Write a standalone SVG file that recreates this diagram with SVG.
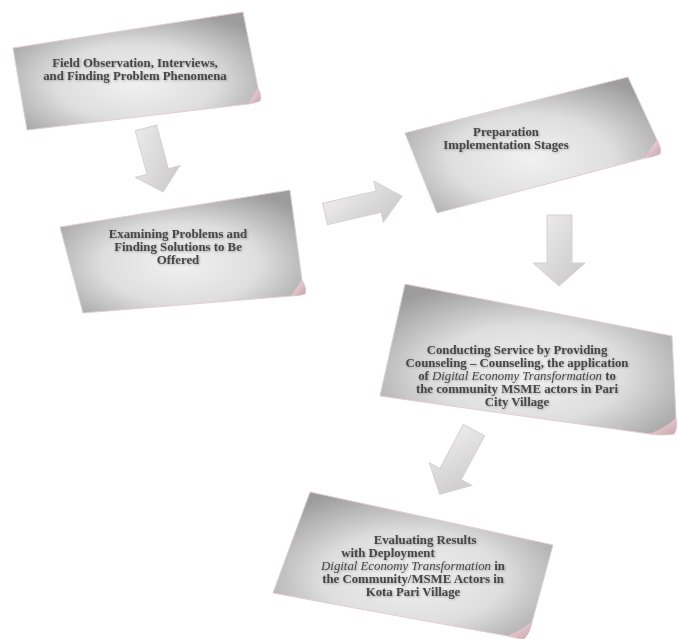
<svg xmlns="http://www.w3.org/2000/svg" width="678" height="639" viewBox="0 0 678 639">
<style>
.note{fill:url(#paper);stroke:#e2cdd1;stroke-width:1}
.fold{fill:url(#foldg);stroke:#dcbcc2;stroke-width:0.8}
.arrow{fill:url(#arrg);stroke:#d9cdd0;stroke-width:1}
.t{font-family:"Liberation Serif","Times New Roman",serif;font-size:12.8px;font-weight:bold;fill:#474747;text-anchor:middle;filter:url(#ts)}
.i{font-style:italic;font-weight:normal}
</style>
<defs>
<radialGradient id="paper" cx="50%" cy="60%" r="65%">
<stop offset="0" stop-color="#f1f1f1"/>
<stop offset="0.5" stop-color="#dedede"/>
<stop offset="1" stop-color="#9c9c9c"/>
</radialGradient>
<linearGradient id="foldg" x1="0" y1="0" x2="1" y2="1">
<stop offset="0" stop-color="#f2e6e8"/>
<stop offset="1" stop-color="#c9a2aa"/>
</linearGradient>
<linearGradient id="arrg" x1="0" y1="0" x2="1" y2="1">
<stop offset="0" stop-color="#f0f0f0"/>
<stop offset="1" stop-color="#c6c6c6"/>
</linearGradient>
<filter id="ts" x="-10%" y="-30%" width="120%" height="160%">
<feDropShadow dx="0.8" dy="0.8" stdDeviation="0.8" flood-color="#808080" flood-opacity="0.7"/>
</filter>
</defs>
<g id="connectors">
<polygon class="arrow" points="-11,0 11,0 11,45 23,45 0,66 -23,45 -11,45" transform="translate(146,128) rotate(-15)"/>
<polygon class="arrow" points="0,-11 55,-11 55,-21 79,0 55,21 55,11 0,11" transform="translate(325,214) rotate(-13)"/>
<polygon class="arrow" points="547,215 572,215 572,263 585,263 559,286 533,263 547,263"/>
<polygon class="arrow" points="-12,0 12,0 12,50 24,50 0,73 -24,50 -12,50" transform="translate(474,430) rotate(28)"/>
</g>
<g id="node1">
<path class="note" d="M13,48 L243,12 L258,88 Q257,100 248,104 L27,130 Z"/>
<path class="fold" d="M258,88 Q262,96 260,101 Q255,103 248,104 Q253,96 258,88 Z"/>
<text class="t" x="135" y="67">Field Observation, Interviews,</text>
<text class="t" x="135" y="80">and Finding Problem Phenomena</text>
</g>
<g id="node2">
<path class="note" d="M405,133 L628,77 L657,140 Q656,153 645,158 L437,213 Z"/>
<path class="fold" d="M657,140 Q662,149 660,154 Q653,157 645,158 Q651,147 657,140 Z"/>
<text class="t" x="506" y="136">Preparation</text>
<text class="t" x="506" y="149">Implementation Stages</text>
</g>
<g id="node3">
<path class="note" d="M60,227 L290,190 L302,280 Q301,292 291,296 L83,313 Z"/>
<path class="fold" d="M302,280 Q307,288 305,294 Q299,296 291,296 Q297,287 302,280 Z"/>
<text class="t" x="178" y="238">Examining Problems and</text>
<text class="t" x="178" y="251">Finding Solutions to Be</text>
<text class="t" x="178" y="264">Offered</text>
</g>
<g id="node4">
<path class="note" d="M405,284 L672,336 L676,418 Q668,432 650,434 L380,396 Z"/>
<path class="fold" d="M676,418 Q678,428 674,434 Q662,436 650,434 Q666,428 676,418 Z"/>
<text class="t" x="517" y="354">Conducting Service by Providing</text>
<text class="t" x="517" y="367">Counseling – Counseling, the application</text>
<text class="t" x="517" y="380">of <tspan class="i">Digital Economy Transformation</tspan> to</text>
<text class="t" x="517" y="393">the community MSME actors in Pari</text>
<text class="t" x="517" y="406">City Village</text>
</g>
<g id="node5">
<path class="note" d="M310,492 L553,545 L532,622 Q522,634 508,636 L273,593 Z"/>
<path class="fold" d="M532,622 Q530,633 524,639 Q515,638 508,636 Q522,630 532,622 Z"/>
<text class="t" x="425" y="544">Evaluating Results</text>
<text class="t" x="388" y="557">with Deployment</text>
<text class="t" x="413" y="570"><tspan class="i">Digital Economy Transformation</tspan> in</text>
<text class="t" x="413" y="583">the Community/MSME Actors in</text>
<text class="t" x="413" y="596">Kota Pari Village</text>
</g>
</svg>
